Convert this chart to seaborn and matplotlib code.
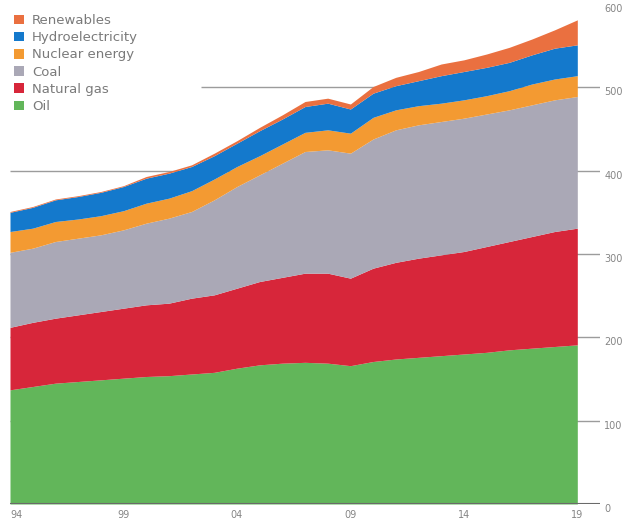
import matplotlib
matplotlib.use("Agg")
import matplotlib.pyplot as plt
from matplotlib.patches import Patch
import seaborn as sns
import pandas as pd

years = list(range(1994, 2020))
oil = [137, 141, 145, 147, 149, 151, 153, 154, 156, 158, 163, 167, 169, 170, 169, 166,
       171, 174, 176, 178, 180, 182, 185, 187, 189, 191]
natural_gas = [75, 77, 78, 80, 82, 84, 86, 87, 91, 93, 96, 100, 103, 107, 108, 105,
               112, 116, 119, 121, 123, 127, 130, 134, 138, 140]
coal = [90, 89, 92, 92, 92, 94, 98, 102, 104, 114, 122, 128, 137, 146, 148, 150,
        155, 159, 160, 160, 160, 159, 158, 158, 158, 158]
nuclear = [25, 24, 24, 23, 23, 23, 24, 24, 25, 25, 24, 23, 23, 23, 24, 24,
           26, 24, 23, 22, 22, 22, 23, 25, 25, 25]
hydro = [23, 25, 26, 27, 28, 29, 30, 30, 29, 28, 28, 30, 30, 31, 32, 29,
         29, 29, 30, 33, 34, 34, 34, 35, 37, 37]
renewables = [1, 1, 1, 1, 1, 1, 2, 2, 2, 3, 3, 4, 5, 6, 6, 6,
              8, 10, 11, 14, 14, 16, 18, 19, 22, 30]

series_names = ["Oil", "Natural gas", "Coal", "Nuclear energy", "Hydroelectricity", "Renewables"]
colors = ["#62b65a", "#d7263a", "#aaa8b6", "#f39a32", "#1479cc", "#ea7040"]
xtick_vals = [1994, 1999, 2004, 2009, 2014, 2019]
xtick_labels = ["94", "99", "04", "09", "14", "19"]
ytick_vals = [0, 100, 200, 300, 400, 500, 600]

df = pd.DataFrame({"year": years, "Oil": oil, "Natural gas": natural_gas, "Coal": coal,
                   "Nuclear energy": nuclear, "Hydroelectricity": hydro,
                   "Renewables": renewables})

sns.set_theme(style="white")
plt.rcParams["font.family"] = ["DejaVu Sans"]

fig = plt.figure(figsize=(6.25, 5.23), dpi=100)
ax = fig.add_axes([10 / 625, 19 / 523, 590 / 625, 500 / 523])

# gridlines behind the areas
for v in [100, 200, 300, 400]:
    ax.hlines(v, 1994, 2020, color="#9c9c9c", lw=1, zorder=0)
ax.hlines(500, 2002.4, 2020, color="#9c9c9c", lw=1, zorder=0)

ax.stackplot(df["year"], *[df[n] for n in series_names], colors=colors,
             linewidth=0, zorder=1)
ax.axhline(0, color="#6a6a6a", lw=1.5, zorder=3)

ax.set_xlim(1994, 2020)
ax.set_ylim(0, 600)
ax.set_xticks(xtick_vals)
ax.set_xticklabels(xtick_labels)
ax.set_yticks(ytick_vals)
ax.set_yticklabels([str(v) for v in ytick_vals])
ax.yaxis.tick_right()
ax.tick_params(axis="both", length=0, labelsize=7, labelcolor="#858585")
ax.tick_params(axis="y", pad=3)
ax.tick_params(axis="x", pad=4)
for lab in ax.get_yticklabels():
    lab.set_va("top")
ax.get_xticklabels()[0].set_ha("left")
sns.despine(ax=ax, left=True, bottom=True, right=True, top=True)
ax.grid(False)

handles = [Patch(facecolor=c, edgecolor="none") for c in colors][::-1]
leg = ax.legend(handles, series_names[::-1], loc="upper left",
                bbox_to_anchor=(0.0, 0.988), frameon=False, fontsize=9.5,
                handlelength=0.75, handleheight=0.75, handletextpad=0.6,
                labelspacing=0.32, borderaxespad=0.2, borderpad=0.1)
for t in leg.get_texts():
    t.set_color("#7a7a7a")

fig.savefig("out.png", dpi=100, facecolor="white")
